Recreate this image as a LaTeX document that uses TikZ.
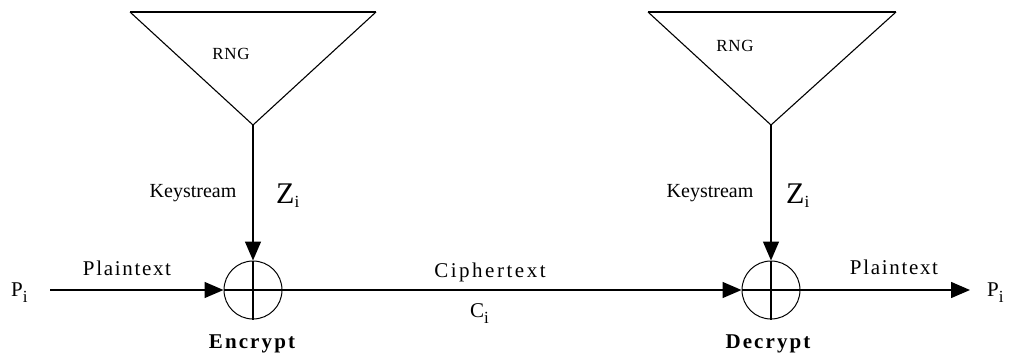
\documentclass[tikz,border=0pt]{standalone}
\usepackage{fontspec}
\setmainfont{Liberation Serif}
\usetikzlibrary{arrows.meta}
\newcommand{\mysub}[2][6pt]{\raisebox{-#1}{\fontsize{17}{17}\selectfont #2}}
\begin{document}
\begin{tikzpicture}[x=1pt,y=-1pt,
  tri/.style={line width=1.1pt},
  toptri/.style={line width=2pt},
  arr/.style={line width=1.4pt,-{Triangle[length=19pt,width=16pt]}},
  xor/.style={circle,draw,line width=1pt,minimum size=58pt,inner sep=0pt},
  cross/.style={line width=1.4pt},
  lbl/.style={font=\fontsize{21}{23}\selectfont\addfontfeatures{LetterSpace=8},anchor=base,inner sep=0pt},
  clbl/.style={font=\fontsize{21}{23}\selectfont\addfontfeatures{LetterSpace=12},anchor=base,inner sep=0pt},
  klbl/.style={font=\fontsize{20}{22}\selectfont,anchor=base,inner sep=0pt},
  blbl/.style={font=\fontsize{21}{23}\selectfont\bfseries\addfontfeatures{LetterSpace=10},anchor=base,inner sep=0pt},
  rng/.style={font=\fontsize{17}{19}\selectfont\addfontfeatures{LetterSpace=4},anchor=center,inner sep=0pt},
  var/.style={font=\fontsize{21}{23}\selectfont,anchor=base west,inner sep=0pt},
  zvar/.style={font=\fontsize{30}{32}\selectfont,anchor=base west,inner sep=0pt}]
\useasboundingbox (0,0) rectangle (1015,356);

% RNG triangles
\coordinate (tlL) at (130,12); \coordinate (trL) at (376,12); \coordinate (apL) at (253,125);
\coordinate (tlR) at (648,12); \coordinate (trR) at (896,12); \coordinate (apR) at (771,125);
\draw[tri] (tlL) -- (apL) -- (trL);
\draw[toptri] (tlL) -- (trL);
\draw[tri] (tlR) -- (apR) -- (trR);
\draw[toptri] (tlR) -- (trR);
\node[rng] (rngL) at (231,54) {RNG};
\node[rng] (rngR) at (735,46) {RNG};

% XOR circles
\node[xor] (enc) at (253,290) {};
\node[xor] (dec) at (771,290) {};
\draw[cross] (enc.north) -- (enc.south);
\draw[cross] (enc.west) -- (enc.east);
\draw[cross] (dec.north) -- (dec.south);
\draw[cross] (dec.west) -- (dec.east);

% connectors
\coordinate (inL) at (50,290);
\coordinate (outR) at (970,290);
\draw[arr] (apL) -- (enc.north);
\draw[arr] (apR) -- (dec.north);
\draw[arr] (inL) -- (enc.west);
\draw[arr] (enc.east) -- (dec.west);
\draw[arr] (dec.east) -- (outR);

% labels
\node[var] (pin) at (11,296) {P\mysub{i}};
\node[var] (pout) at (987,296) {P\mysub{i}};
\node[lbl] (ptL) at (127,275) {Plaintext};
\node[lbl] (ptR) at (894,274) {Plaintext};
\node[clbl] (ct) at (490,277) {Ciphertext};
\node[var] (ci) at (470,317) {C\mysub{i}};
\node[klbl] (ksL) at (193,197) {Keystream};
\node[klbl] (ksR) at (710,197) {Keystream};
\node[zvar] (zL) at (276,203) {Z\mysub[4pt]{i}};
\node[zvar] (zR) at (786,203) {Z\mysub[4pt]{i}};
\node[blbl] (encl) at (252,348) {Encrypt};
\node[blbl] (decl) at (768,348) {Decrypt};
\end{tikzpicture}
\end{document}
